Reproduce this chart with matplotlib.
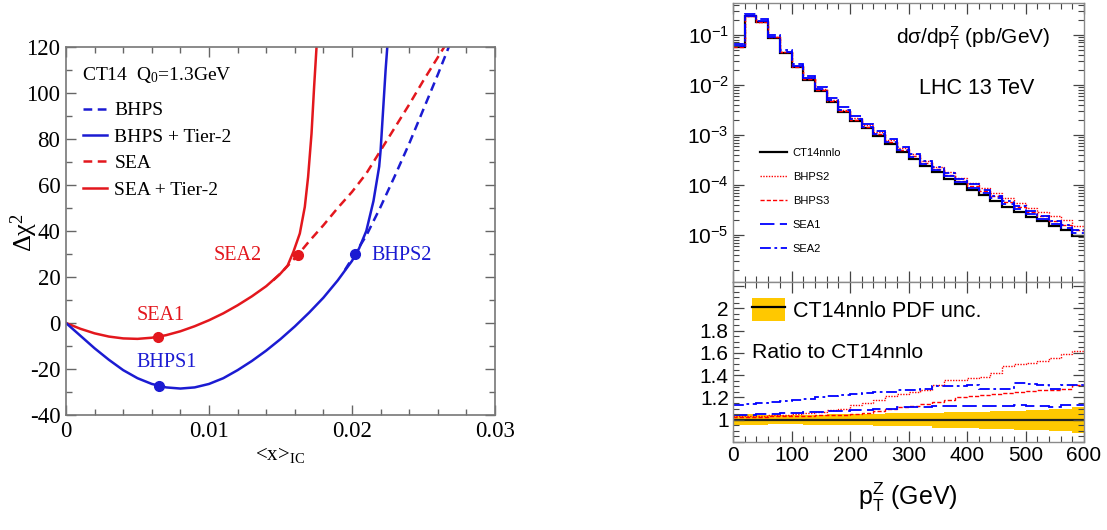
import numpy as np
import matplotlib
matplotlib.use('Agg')
import matplotlib.pyplot as plt
from matplotlib.ticker import MultipleLocator, FuncFormatter, LogLocator, NullFormatter
from matplotlib.patches import Patch
from matplotlib.lines import Line2D

# ---------------- left panel data: delta chi^2 vs <x>_IC ----------------
sea_t2_x = [0.0, 0.001, 0.002, 0.003, 0.004, 0.005, 0.006, 0.007, 0.008, 0.009, 0.010,
            0.011, 0.012, 0.013, 0.014, 0.015, 0.0155, 0.0159, 0.01635, 0.0167, 0.01693,
            0.01717, 0.01735, 0.01752, 0.0176]
sea_t2_y = [0.0, -2.5, -4.5, -5.9, -6.7, -6.9, -6.4, -5.3, -3.6, -1.4, 1.2,
            4.2, 7.7, 11.6, 16.0, 21.5, 25.0, 30.9, 38.9, 50.5, 63.5,
            82.4, 102.6, 120.0, 130.0]
sea_x = [0.0145, 0.015, 0.0162, 0.017, 0.018, 0.019, 0.020, 0.021, 0.022, 0.023,
         0.024, 0.025, 0.026, 0.0266]
sea_y = [18.6, 21.5, 29.5, 35.5, 42.5, 50.0, 57.0, 65.0, 75.0, 85.0,
         95.0, 105.5, 115.5, 121.5]
bhps_t2_x = [0.0, 0.001, 0.002, 0.003, 0.004, 0.005, 0.006, 0.007, 0.008, 0.009, 0.010,
             0.011, 0.012, 0.013, 0.014, 0.015, 0.016, 0.017, 0.018, 0.019, 0.020,
             0.0205, 0.021, 0.0215, 0.0219, 0.0220, 0.0221, 0.0222, 0.02235, 0.02248]
bhps_t2_y = [0.0, -5.5, -11.0, -16.0, -20.5, -24.0, -26.5, -28.0, -28.5, -28.0, -26.5,
             -24.0, -20.5, -16.5, -12.0, -7.0, -1.5, 4.5, 11.0, 18.5, 27.0,
             32.5, 40.0, 53.0, 68.0, 75.0, 85.0, 95.0, 110.0, 121.0]
bhps_x = [0.0195, 0.0202, 0.021, 0.022, 0.023, 0.024, 0.025, 0.026, 0.0268]
bhps_y = [23.0, 30.0, 38.0, 50.5, 64.0, 78.0, 93.0, 108.0, 120.5]
pt_names = ['SEA1', 'SEA2', 'BHPS1', 'BHPS2']
pt_x = [0.0064, 0.0162, 0.0065, 0.0202]
pt_y = [-6.0, 29.5, -27.3, 30.0]

# ---------------- right panel data: Z pT spectrum, 20 GeV bins ----------------
bin_edges = list(range(0, 620, 20))
ct14nnlo = [0.057, 0.232, 0.176, 0.086, 0.043, 0.0222, 0.0126, 0.0076, 0.0046, 0.0029,
            0.0019, 0.00134, 0.00095, 0.00066, 0.00045, 0.00033, 0.00024, 0.000178,
            0.000132, 0.000102, 7.9e-5, 6.2e-5, 4.8e-5, 3.7e-5, 2.9e-5, 2.3e-5,
            1.86e-5, 1.51e-5, 1.23e-5, 9.5e-6]
ratio_bhps2 = [1.03, 1.03, 1.03, 1.04, 1.04, 1.05, 1.06, 1.07, 1.09, 1.10,
               1.13, 1.15, 1.18, 1.21, 1.23, 1.25, 1.27, 1.31, 1.36, 1.36,
               1.37, 1.38, 1.42, 1.48, 1.50, 1.51, 1.53, 1.55, 1.59, 1.62]
ratio_bhps3 = [1.02, 1.02, 1.02, 1.03, 1.03, 1.03, 1.03, 1.04, 1.04, 1.045,
               1.05, 1.06, 1.08, 1.10, 1.11, 1.12, 1.14, 1.16, 1.18, 1.20,
               1.21, 1.22, 1.23, 1.24, 1.25, 1.26, 1.27, 1.27, 1.28, 1.31]
ratio_sea1 = [1.04, 1.04, 1.05, 1.05, 1.06, 1.06, 1.07, 1.07, 1.08, 1.08,
              1.09, 1.09, 1.10, 1.10, 1.11, 1.11, 1.11, 1.12, 1.12, 1.12,
              1.12, 1.12, 1.12, 1.12, 1.13, 1.12, 1.12, 1.11, 1.13, 1.13]
ratio_sea2 = [1.13, 1.14, 1.15, 1.16, 1.17, 1.18, 1.19, 1.20, 1.21, 1.22,
              1.23, 1.24, 1.25, 1.25, 1.27, 1.27, 1.28, 1.30, 1.30, 1.30,
              1.31, 1.28, 1.28, 1.28, 1.33, 1.32, 1.31, 1.28, 1.31, 1.31]
band_up = [1.05, 1.05, 1.04, 1.04, 1.04, 1.04, 1.04, 1.04, 1.05, 1.05,
           1.05, 1.05, 1.05, 1.06, 1.06, 1.06, 1.06, 1.06, 1.07, 1.07,
           1.07, 1.07, 1.08, 1.08, 1.08, 1.09, 1.09, 1.10, 1.10, 1.11]
band_lo = [0.95, 0.95, 0.95, 0.96, 0.96, 0.96, 0.95, 0.95, 0.95, 0.95,
           0.95, 0.95, 0.94, 0.94, 0.94, 0.94, 0.94, 0.93, 0.93, 0.93,
           0.93, 0.92, 0.92, 0.92, 0.91, 0.91, 0.91, 0.90, 0.90, 0.88]

W, H = 1107, 530
fig = plt.figure(figsize=(W / 100, H / 100), dpi=100)

# ======================= LEFT PANEL =======================
SERIF = 'Liberation Serif'
RED_L = '#e3171d'
BLUE_L = '#1b1bd2'
axL = fig.add_axes([66 / W, 1 - 415 / H, 429 / W, 368 / H])
axL.plot(sea_x, sea_y, color=RED_L, lw=1.8, dashes=(3.5, 2.2))
axL.plot(bhps_x, bhps_y, color=BLUE_L, lw=1.8, dashes=(3.5, 2.2))
axL.plot(sea_t2_x, sea_t2_y, color=RED_L, lw=1.8)
axL.plot(bhps_t2_x, bhps_t2_y, color=BLUE_L, lw=1.8)
pt_cols = [RED_L, RED_L, BLUE_L, BLUE_L]
for px, py, c in zip(pt_x, pt_y, pt_cols):
    axL.plot([px], [py], 'o', color=c, ms=7)
axL.set_xlim(0, 0.03)
axL.set_ylim(-40, 120)
axL.xaxis.set_major_locator(MultipleLocator(0.01))
axL.xaxis.set_minor_locator(MultipleLocator(0.002))
axL.yaxis.set_major_locator(MultipleLocator(20))
axL.yaxis.set_minor_locator(MultipleLocator(10))
axL.xaxis.set_major_formatter(FuncFormatter(lambda v, p: f'{v:g}'))
axL.yaxis.set_major_formatter(FuncFormatter(lambda v, p: f'{v:g}'))
axL.tick_params(which='both', direction='in', top=True, right=True, color='#666666')
axL.tick_params(which='major', length=7, width=1.0, labelsize=16.5, pad=4)
axL.tick_params(which='minor', length=4, width=1.0)
for lab in axL.get_xticklabels() + axL.get_yticklabels():
    lab.set_family(SERIF)
for s in axL.spines.values():
    s.set_color('#777777')
    s.set_linewidth(1.2)

axL.text(0.037, 0.924, 'CT14  Q$\\mathregular{_0}$=1.3GeV', transform=axL.transAxes,
         family=SERIF, fontsize=14, ha='left', va='center')
hL = [Line2D([], [], color=BLUE_L, lw=1.8, dashes=(3.5, 2.2)),
      Line2D([], [], color=BLUE_L, lw=1.8),
      Line2D([], [], color=RED_L, lw=1.8, dashes=(3.5, 2.2)),
      Line2D([], [], color=RED_L, lw=1.8)]
legL = axL.legend(hL, ['BHPS', 'BHPS + Tier-2', 'SEA', 'SEA + Tier-2'],
                  loc='upper left', bbox_to_anchor=(0.039, 0.851), frameon=False,
                  borderpad=0, borderaxespad=0, handlelength=1.25, handletextpad=0.38,
                  labelspacing=0.45, prop={'family': SERIF, 'size': 14})

ann_pos = [(0.00664, 3.4), (0.01204, 29.5), (0.00703, -17.3), (0.02346, 29.5)]
for name, (tx, ty), c in zip(pt_names, ann_pos, pt_cols):
    axL.text(tx, ty, name, color=c, family=SERIF, fontsize=14.5, ha='center', va='center')

axL.text(-0.098, 0.495, 'Δχ$\\mathregular{^2}$', transform=axL.transAxes, rotation=90,
         family=SERIF, fontsize=19, ha='center', va='center')
axL.text(0.499, -0.11, '<x>$\\mathregular{_{IC}}$', transform=axL.transAxes,
         family=SERIF, fontsize=15, ha='center', va='center')

# ======================= RIGHT PANELS =======================
SANS = 'Liberation Sans'
edges = np.array(bin_edges, dtype=float)
ct = np.array(ct14nnlo)
series = [
    ('BHPS2', np.array(ratio_bhps2), dict(color='#ff0000', lw=1.0, linestyle=(0, (1, 1)))),
    ('BHPS3', np.array(ratio_bhps3), dict(color='#ff0000', lw=1.0, linestyle=(0, (3, 1.5)))),
    ('SEA1', np.array(ratio_sea1), dict(color='#0000ff', lw=1.3, linestyle=(0, (8, 3)))),
    ('SEA2', np.array(ratio_sea2), dict(color='#0000ff', lw=1.3, linestyle=(0, (6, 2, 1.5, 2)))),
]

axT = fig.add_axes([733 / W, 1 - 282 / H, 351 / W, 279 / H])
axT.set_yscale('log')
axT.stairs(ct, edges, baseline=None, color='black', lw=1.6)
for name, r, st in series:
    axT.stairs(ct * r, edges, baseline=None, **st)
axT.set_xlim(0, 600)
axT.set_ylim(1.15e-6, 0.43)
axT.xaxis.set_major_locator(MultipleLocator(100))
axT.xaxis.set_minor_locator(MultipleLocator(20))
axT.yaxis.set_major_locator(LogLocator(base=10, numticks=20))
axT.yaxis.set_minor_locator(LogLocator(base=10, subs=np.arange(2, 10), numticks=20))
axT.yaxis.set_minor_formatter(NullFormatter())
axT.yaxis.set_major_formatter(FuncFormatter(
    lambda v, p: '$\\mathregular{10^{%d}}$' % int(round(np.log10(v)))))
axT.tick_params(which='both', direction='in', top=True, right=True, color='#444444',
                labelbottom=False)
axT.tick_params(which='major', length=8, width=0.9, labelsize=15, pad=3)
axT.tick_params(which='minor', length=4, width=0.8)
for lab in axT.get_yticklabels():
    lab.set_family(SANS)

axT.text(0.684, 0.875, 'dσ/dp$\\mathregular{_T^Z}$ (pb/GeV)', transform=axT.transAxes,
         family=SANS, fontsize=15, ha='center', va='center')
axT.text(0.695, 0.692, 'LHC 13 TeV', transform=axT.transAxes,
         family=SANS, fontsize=15.5, ha='center', va='center')
hT = [Line2D([], [], color='black', lw=1.6)] + \
     [Line2D([], [], **{k: v for k, v in st.items()}) for _, _, st in series]
axT.legend(hT, ['CT14nnlo'] + [s[0] for s in series], loc='upper left',
           bbox_to_anchor=(0.077, 0.48), frameon=False, borderpad=0, borderaxespad=0,
           handlelength=2.4, handletextpad=0.55, labelspacing=1.25,
           prop={'family': SANS, 'size': 8})

axB = fig.add_axes([733 / W, 1 - 442 / H, 351 / W, 160 / H])
axB.stairs(np.array(band_up), edges, baseline=np.array(band_lo), fill=True,
           color='#ffc800', lw=0)
axB.stairs(ct / ct, edges, baseline=None, color='#222222', lw=1.6)
for name, r, st in series:
    axB.stairs(r, edges, baseline=None, **st)
axB.set_xlim(0, 600)
axB.set_ylim(0.8, 2.236)
axB.xaxis.set_major_locator(MultipleLocator(100))
axB.xaxis.set_minor_locator(MultipleLocator(20))
axB.yaxis.set_major_locator(MultipleLocator(0.2))
axB.yaxis.set_minor_locator(MultipleLocator(0.05))
axB.xaxis.set_major_formatter(FuncFormatter(lambda v, p: f'{v:g}'))
axB.yaxis.set_major_formatter(FuncFormatter(
    lambda v, p: f'{v:g}' if 0.9 < v < 2.1 else ''))
axB.tick_params(which='both', direction='in', top=True, right=True, color='#444444')
axB.tick_params(which='major', length=8, width=0.9, labelsize=15, pad=3)
axB.tick_params(which='minor', length=4, width=0.8)
for lab in axB.get_xticklabels() + axB.get_yticklabels():
    lab.set_family(SANS)

hB = [(Patch(facecolor='#ffc800', edgecolor='none'), Line2D([], [], color='black', lw=1.6))]
axB.legend(hB, ['CT14nnlo PDF unc.'], loc='upper left', bbox_to_anchor=(0.054, 0.9),
           frameon=False, borderpad=0, borderaxespad=0, handlelength=1.53,
           handleheight=1.26, handletextpad=0.37, prop={'family': SANS, 'size': 15.5})
axB.text(0.054, 0.5625, 'Ratio to CT14nnlo', transform=axB.transAxes,
         family=SANS, fontsize=15.3, ha='left', va='center')
axB.text(0.4986, -0.344, 'p$\\mathregular{_T^Z}$ (GeV)', transform=axB.transAxes,
         family=SANS, fontsize=18, ha='center', va='center')

for ax in (axT, axB):
    for s in ax.spines.values():
        s.set_color('#8a8a8a')
        s.set_linewidth(1.0)

fig.savefig('out.png', dpi=100)
